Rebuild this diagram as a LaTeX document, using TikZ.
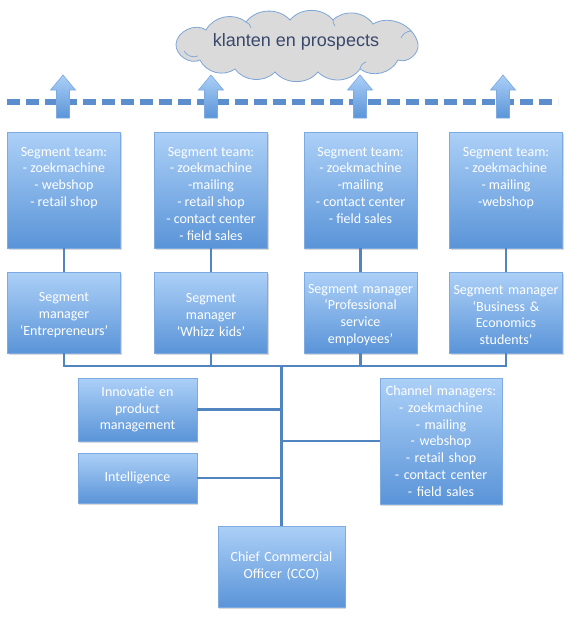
\documentclass[tikz,border=0pt]{standalone}
\usepackage{fontspec}
\setmainfont{Carlito}
\newfontfamily\cloudfont{Liberation Sans}
\usetikzlibrary{shadows}
\definecolor{boxtop}{RGB}{172,208,247}
\definecolor{boxbot}{RGB}{90,148,216}
\definecolor{boxline}{RGB}{125,170,225}
\definecolor{conn}{RGB}{82,132,192}
\definecolor{dashc}{RGB}{92,142,206}
\definecolor{cloudfill}{RGB}{218,218,218}
\definecolor{cloudline}{RGB}{125,165,215}
\definecolor{cloudtext}{RGB}{58,72,108}
\tikzset{
  orgbox/.style={draw=boxline, line width=0.8pt, top color=boxtop, bottom color=boxbot,
    drop shadow={shadow xshift=1pt, shadow yshift=-2pt, opacity=0.3},
    text=white, align=center, inner sep=0pt, font=\fontsize{14}{16.8}\selectfont},
  teambox/.style={orgbox, minimum width=113pt, minimum height=116pt},
  mgrbox/.style={orgbox, minimum width=113pt, minimum height=81pt, text width=113pt},
  conline/.style={draw=conn, line width=2.2pt},
  dashline/.style={draw=dashc, line width=5.5pt, dash pattern=on 13pt off 6pt},
  uparrow/.style={draw=boxline, line width=0.6pt, top color=boxtop, bottom color=boxbot},
  cloudpath/.style={draw=cloudline, line width=0.8pt, fill=cloudfill},
  cloudinner/.style={draw=cloudline, line width=0.7pt},
}
\newcommand{\teamtext}[1]{\parbox[c][116pt][t]{113pt}{\centering\rule{0pt}{24pt}#1}}
\newcommand{\mgrtext}[1]{\parbox{113pt}{\centering\rule{0pt}{14pt}#1}}
\begin{document}
\begin{tikzpicture}[x=1pt,y=-1pt]
\useasboundingbox (0,0) rectangle (577,621);

% cloud
\path[cloudpath] (176,44) to[bend left=60] (206,30) to[bend left=50] (246,22)
  to[bend left=50] (290,20) to[bend left=50] (333,20) to[bend left=50] (373,24)
  to[bend left=55] (418,44) to[bend left=60] (398,60) to[bend left=50] (360,69)
  to[bend left=50] (318,72) to[bend left=50] (275,72) to[bend left=50] (235,69)
  to[bend left=50] (200,60) to[bend left=60] (176,44) -- cycle;
\draw[cloudinner] (184,51) to[bend right=40] (198,56);
\draw[cloudinner] (401,38) to[bend left=30] (411,31);
\draw[cloudinner] (246,22) to[bend left=30] (251,28);
\draw[cloudinner] (333,20) to[bend right=20] (335,26);
\draw[cloudinner] (360,69) to[bend left=30] (366,62);
\node[font=\cloudfont\fontsize{18}{20}\selectfont, text=cloudtext, inner sep=0pt] (cloud) at (296,42) {klanten en prospects};

% dashed line
\coordinate (dl) at (7,102);
\coordinate (dr) at (558,102);
\draw[dashline] (dl) -- (dr);

% up arrows
\foreach \ax in {63,211,360,503}{
  \path[uparrow] (\ax-6.5,118) -- (\ax-6.5,90) -- (\ax-12.5,90) -- (\ax,75) -- (\ax+12.5,90) -- (\ax+6.5,90) -- (\ax+6.5,118) -- cycle;
}

% team boxes
\node[teambox] (t1) at (64,190) {\teamtext{Segment team:\\- zoekmachine\\- webshop\\- retail shop}};
\node[teambox] (t2) at (211,190) {\teamtext{Segment team:\\- zoekmachine\\-mailing\\- retail shop\\- contact center\\- field sales}};
\node[teambox] (t3) at (360.5,190) {\teamtext{Segment team:\\- zoekmachine\\-mailing\\- contact center\\- field sales}};
\node[teambox] (t4) at (506,190) {\teamtext{Segment team:\\- zoekmachine\\- mailing\\-webshop}};

% manager boxes
\node[mgrbox] (m1) at (64,312.5) {\mgrtext{Segment\\manager\\‘Entrepreneurs’}};
\node[mgrbox] (m2) at (211,312.5) {\mgrtext{Segment\\manager\\‘Whizz kids’}};
\node[mgrbox] (m3) at (360.5,312.5) {\mgrtext{Segment manager\\‘Professional\\service\\employees’}};
\node[mgrbox] (m4) at (506,312.5) {\mgrtext{Segment manager\\‘Business \&\\Economics\\students’}};

% staff boxes
\node[orgbox, minimum width=119pt, minimum height=63pt, text width=119pt] (inno) at (137.5,409.5) {Innovatie en\\product\\management};
\node[orgbox, minimum width=119pt, minimum height=50pt, text width=119pt] (intel) at (137.5,478) {Intelligence};
\node[orgbox, minimum width=122pt, minimum height=126pt, text width=122pt] (chan) at (441,441) {Channel managers:\\- zoekmachine\\- mailing\\- webshop\\- retail shop\\- contact center\\- field sales};
\node[orgbox, minimum width=127pt, minimum height=81pt, text width=127pt] (cco) at (281.5,566.5) {Chief Commercial\\Officer (CCO)};

% connectors
\coordinate (bus) at (0,366);
\draw[conline] (t1) -- (m1);
\draw[conline] (t2) -- (m2);
\draw[conline] (t3) -- (m3);
\draw[conline] (t4) -- (m4);
\draw[conline] (m1.south) -- (m1.south |- bus) -- (m4.south |- bus) -- (m4.south);
\draw[conline] (m2.south) -- (m2.south |- bus);
\draw[conline] (m3.south) -- (m3.south |- bus);
\draw[conline] (cco.north) -- (cco.north |- bus);
\draw[conline] (inno.east) -- (inno.east -| cco.north);
\draw[conline] (intel.east) -- (intel.east -| cco.north);
\draw[conline] (chan.west) -- (chan.west -| cco.north);
\end{tikzpicture}
\end{document}
